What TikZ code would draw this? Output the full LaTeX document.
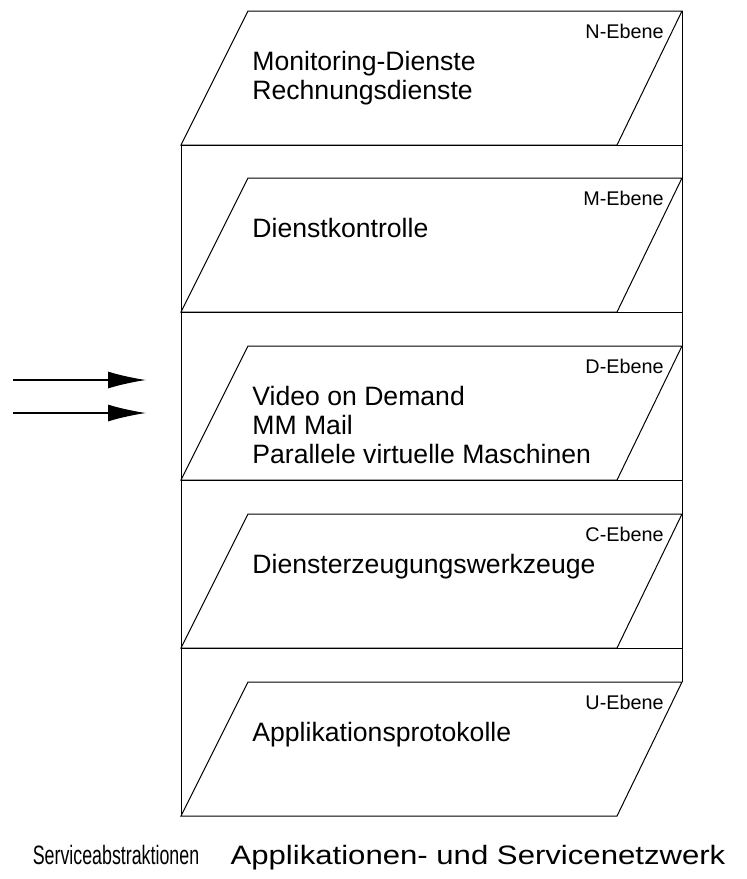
\documentclass[tikz,border=0pt]{standalone}
\usepackage{fontspec}
\setmainfont{Liberation Sans}
\newfontfamily\schmal{Liberation Sans}[FakeStretch=0.67]
\newfontfamily\breit{Liberation Sans}[FakeStretch=1.17]
\usetikzlibrary{arrows.meta,calc}

\begin{document}
\begin{tikzpicture}[x=0.5pt,y=-0.5pt,
    ebene/.style={draw,line width=0.5pt},
    dienst/.style={anchor=north west,inner sep=0pt,align=left,font=\fontsize{13.3}{14.5}\selectfont},
    kennung/.style={anchor=base east,inner sep=0pt,font=\fontsize{9.9}{11}\selectfont},
    fuss/.style={anchor=base,inner sep=0pt},
    pfeil/.style={line width=0.75pt,-{Latex[length=19pt,width=8.5pt]}}]
  \useasboundingbox (0,0) rectangle (746,879);
  % Kasten
  \draw[line width=0.5pt] (682,11) -- (682,682);
  \draw[line width=0.5pt] (181,146) -- (181,814);
  \foreach \t in {11,178,346,514}
    \draw[line width=0.5pt] (181,\t+134) -- (682,\t+134);
  % Ebenen
  \foreach \t/\e/\txt in {11/N/{Monitoring-Dienste\\Rechnungsdienste},
      178/M/{Dienstkontrolle},
      346/D/{Video on Demand\\MM Mail\\Parallele virtuelle Maschinen},
      514/C/{Diensterzeugungswerkzeuge},
      682/U/{Applikationsprotokolle}}{
    \draw[ebene] (248,\t) -- (682,\t) -- (617,\t+134) -- (181,\t+134) -- cycle;
    \node[kennung] (\e-label) at (664,\t+27) {\e-Ebene};
    \node[dienst] (\e-text) at (252,\t+40) {\txt};
  }
  % Pfeile
  \coordinate (quelle1) at (13,380);
  \coordinate (ziel1) at (146,380);
  \coordinate (quelle2) at (13,413);
  \coordinate (ziel2) at (146,413);
  \draw[pfeil] (quelle1) -- (ziel1);
  \draw[pfeil] (quelle2) -- (ziel2);
  % Unterschriften
  \node[fuss,font=\schmal\fontsize{13.3}{14.5}\selectfont] (abstr) at (116,864) {Serviceabstraktionen};
  \node[fuss,font=\breit\fontsize{13.3}{14.5}\selectfont] (netz) at (478,864) {Applikationen- und Servicenetzwerk};
\end{tikzpicture}
\end{document}
